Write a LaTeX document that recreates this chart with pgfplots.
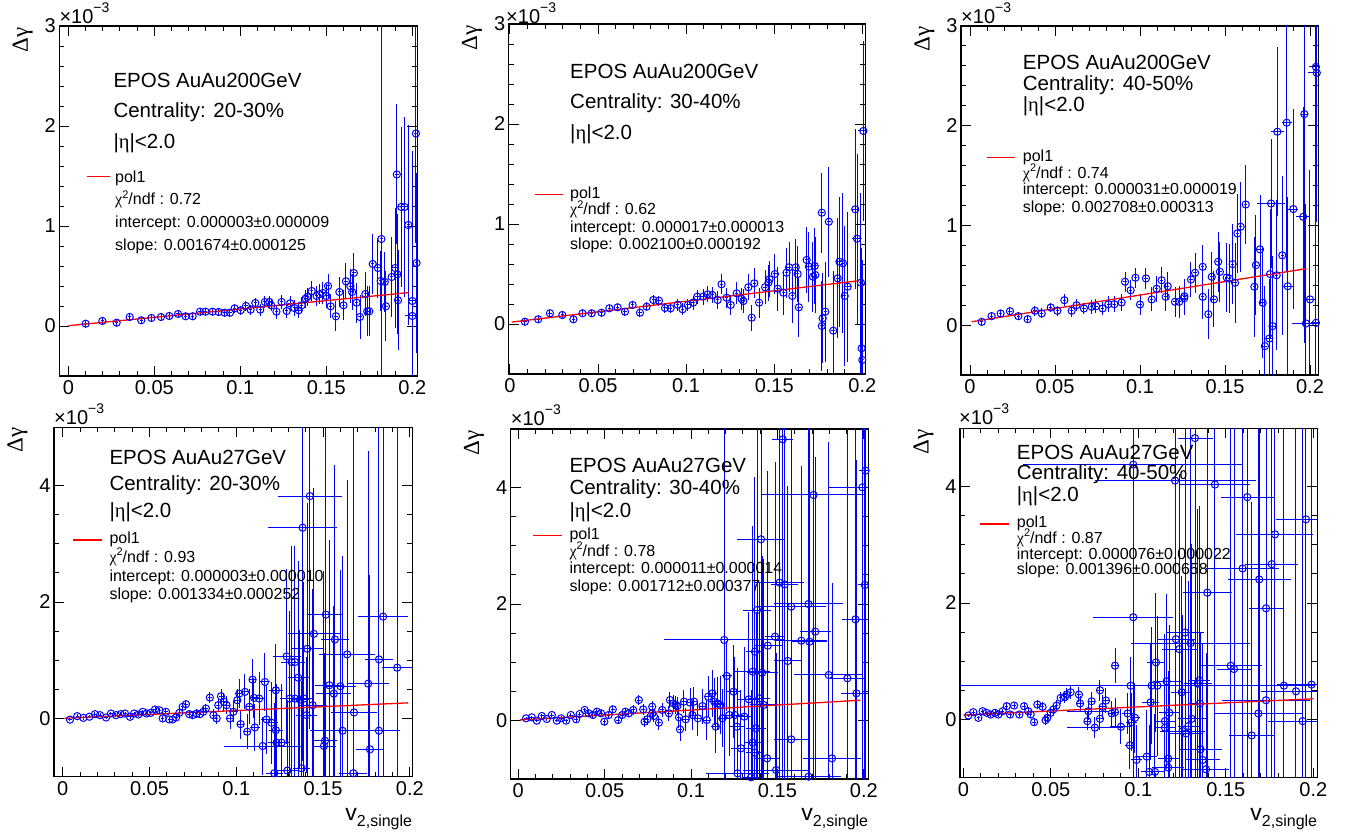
\documentclass[border=0pt]{standalone}
\usepackage{fontspec}
\setmainfont{Liberation Sans}
\newfontfamily\grk{Liberation Serif}
\usepackage{pgfplots}
\usepackage{pgfplotstable}
\pgfplotsset{compat=1.18}

\newcommand{\fA}{\fontsize{20.5}{24}\selectfont}
\newcommand{\fB}{\fontsize{16}{19}\selectfont}
\newcommand{\fT}{\fontsize{20}{22}\selectfont}
\newcommand{\chisq}{{\grk χ}\raisebox{0.42em}{\fontsize{11}{11}\selectfont 2}/ndf}
\newcommand{\tenm}{\fT ×10\raisebox{0.55em}{\fontsize{14}{14}\selectfont −3}}
\newcommand{\dg}{\fontsize{23}{23}\selectfont{\grk Δγ}}
\newcommand{\vlab}{\fontsize{23}{23}\selectfont v\raisebox{-5.5pt}{\fontsize{16}{16}\selectfont 2,single}}

\pgfplotstableread{
x y ex ey
0.0101 0.023 0.001 0.03
0.0198 0.050 0.001 0.03
0.0281 0.033 0.001 0.03
0.0357 0.090 0.001 0.03
0.0424 0.057 0.001 0.03
0.0483 0.080 0.001 0.03
0.0539 0.090 0.001 0.03
0.0587 0.100 0.001 0.03
0.0638 0.120 0.001 0.03
0.0682 0.097 0.001 0.03
0.0723 0.097 0.001 0.035
0.0766 0.143 0.001 0.035
0.0798 0.143 0.001 0.035
0.0839 0.143 0.001 0.035
0.0874 0.140 0.001 0.04
0.0909 0.133 0.001 0.04
0.0940 0.133 0.001 0.04
0.0967 0.177 0.001 0.045
0.1002 0.157 0.001 0.045
0.1033 0.200 0.001 0.05
0.1060 0.163 0.001 0.05
0.1087 0.230 0.001 0.05
0.1116 0.163 0.001 0.06
0.1143 0.240 0.001 0.06
0.1169 0.240 0.001 0.06
0.1180 0.207 0.001 0.06
0.1210 0.143 0.001 0.07
0.1240 0.240 0.001 0.07
0.1270 0.150 0.001 0.07
0.1290 0.227 0.001 0.07
0.1314 0.180 0.001 0.08
0.1340 0.157 0.001 0.08
0.1357 0.207 0.001 0.08
0.1380 0.274 0.001 0.09
0.1390 0.290 0.001 0.09
0.1415 0.350 0.001 0.10
0.1444 0.300 0.001 0.10
0.1460 0.317 0.001 0.10
0.1480 0.330 0.001 0.11
0.1500 0.300 0.001 0.12
0.1510 0.400 0.001 0.12
0.1525 0.197 0.001 0.12
0.1556 0.097 0.001 0.15
0.1576 0.340 0.001 0.15
0.1600 0.207 0.001 0.15
0.1614 0.447 0.001 0.18
0.1640 0.397 0.001 0.17
0.1650 0.340 0.001 0.18
0.1660 0.530 0.001 0.20
0.1676 0.233 0.001 0.20
0.1696 0.090 0.001 0.22
0.1727 0.320 0.001 0.22
0.1738 0.147 0.001 0.25
0.1750 0.147 0.001 0.25
0.1770 0.620 0.001 0.30
0.1800 0.580 0.001 0.30
0.1820 0.870 0.001 4.0
0.1816 0.450 0.001 0.30
0.1840 0.440 0.001 0.30
0.1847 0.197 0.001 0.35
0.1880 0.490 0.001 0.40
0.1900 0.580 0.002 0.60
0.1910 1.515 0.001 0.70
0.1913 0.517 0.002 0.60
0.1917 0.257 0.001 0.50
0.1936 1.190 0.002 0.80
0.1955 1.190 0.002 0.90
0.1977 1.010 0.001 1.00
0.2000 0.250 0.002 1.50
0.2000 0.100 0.004 1.50
0.2021 1.925 0.001 1.10
0.2025 0.630 0.001 0.90
}\tA

\pgfplotstableread{
x y ex ey
0.0085 0.023 0.001 0.03
0.0160 0.047 0.001 0.03
0.0227 0.107 0.001 0.03
0.0297 0.090 0.001 0.03
0.0360 0.047 0.001 0.035
0.0412 0.107 0.001 0.03
0.0464 0.107 0.001 0.03
0.0520 0.113 0.001 0.035
0.0564 0.157 0.001 0.035
0.0611 0.167 0.001 0.035
0.0653 0.123 0.001 0.04
0.0696 0.190 0.001 0.04
0.0738 0.113 0.001 0.045
0.0776 0.173 0.001 0.045
0.0814 0.240 0.001 0.05
0.0846 0.233 0.001 0.05
0.0880 0.160 0.001 0.05
0.0912 0.157 0.001 0.05
0.0952 0.193 0.001 0.06
0.0980 0.147 0.001 0.06
0.1010 0.190 0.001 0.06
0.1040 0.213 0.001 0.07
0.1063 0.273 0.001 0.07
0.1097 0.273 0.001 0.08
0.1122 0.297 0.001 0.08
0.1149 0.290 0.001 0.08
0.1179 0.240 0.001 0.09
0.1201 0.397 0.001 0.10
0.1230 0.263 0.001 0.10
0.1253 0.190 0.001 0.10
0.1287 0.307 0.001 0.11
0.1315 0.250 0.001 0.11
0.1325 0.230 0.001 0.12
0.1353 0.367 0.001 0.13
0.1372 0.063 0.001 0.13
0.1387 0.407 0.001 0.15
0.1414 0.213 0.001 0.15
0.1448 0.367 0.001 0.17
0.1467 0.413 0.001 0.18
0.1473 0.447 0.001 0.18
0.1504 0.500 0.001 0.20
0.1520 0.353 0.001 0.22
0.1552 0.313 0.001 0.22
0.1570 0.513 0.001 0.25
0.1584 0.567 0.001 0.25
0.1603 0.280 0.001 0.27
0.1622 0.567 0.001 0.28
0.1633 0.500 0.001 0.28
0.1640 0.167 0.001 0.30
0.1684 0.640 0.001 0.33
0.1697 0.573 0.001 0.35
0.1720 0.473 0.001 0.35
0.1730 0.580 0.001 0.38
0.1733 0.490 0.001 0.38
0.1770 1.113 0.001 0.40
0.1770 -0.020 0.001 0.45
0.1775 0.057 0.001 0.45
0.1790 0.123 0.001 0.50
0.1810 1.023 0.001 0.55
0.1835 -0.067 0.001 0.60
0.1860 0.457 0.001 0.60
0.1870 0.623 0.002 0.65
0.1890 0.607 0.001 0.70
0.1900 0.280 0.001 0.70
0.1917 0.373 0.002 0.75
0.1960 1.147 0.002 0.80
0.1970 0.853 0.003 0.85
0.1992 0.413 0.001 0.90
0.1996 -0.243 0.001 1.00
0.2000 -0.360 0.001 1.00
0.2006 1.930 0.003 0.90
}\tB

\pgfplotstableread{
x y ex ey
0.0069 0.033 0.001 0.03
0.0127 0.090 0.001 0.03
0.0180 0.117 0.001 0.035
0.0235 0.140 0.001 0.04
0.0284 0.090 0.001 0.04
0.0339 0.060 0.001 0.04
0.0382 0.144 0.001 0.05
0.0422 0.117 0.001 0.05
0.0475 0.177 0.001 0.05
0.0514 0.144 0.001 0.05
0.0555 0.250 0.001 0.06
0.0598 0.144 0.001 0.06
0.0627 0.200 0.001 0.06
0.0670 0.167 0.001 0.06
0.0716 0.184 0.001 0.07
0.0741 0.190 0.001 0.07
0.0780 0.167 0.001 0.07
0.0814 0.210 0.001 0.08
0.0849 0.210 0.001 0.08
0.0892 0.227 0.001 0.09
0.0912 0.435 0.001 0.10
0.0945 0.350 0.001 0.10
0.0973 0.475 0.001 0.10
0.1000 0.207 0.001 0.11
0.1035 0.468 0.001 0.11
0.1069 0.258 0.001 0.12
0.1098 0.365 0.001 0.13
0.1127 0.450 0.001 0.13
0.1151 0.284 0.001 0.14
0.1163 0.390 0.001 0.14
0.1206 0.234 0.001 0.15
0.1231 0.234 0.001 0.16
0.1261 0.290 0.001 0.17
0.1260 0.270 0.001 0.17
0.1300 0.458 0.001 0.18
0.1324 0.525 0.001 0.20
0.1369 0.585 0.001 0.22
0.1369 0.284 0.001 0.22
0.1402 0.110 0.001 0.25
0.1422 0.485 0.001 0.25
0.1435 0.258 0.001 0.28
0.1460 0.635 0.001 0.30
0.1470 0.535 0.001 0.30
0.1510 0.478 0.001 0.35
0.1525 0.468 0.001 0.35
0.1545 0.612 0.001 0.40
0.1559 0.425 0.001 0.40
0.1573 0.920 0.001 0.40
0.1592 0.987 0.001 0.45
0.1622 1.210 0.001 0.40
0.1673 0.385 0.001 0.50
0.1682 0.602 0.001 0.50
0.1706 0.760 0.002 0.55
0.1722 0.224 0.001 0.55
0.1735 -0.210 0.001 0.60
0.1761 -0.134 0.002 0.60
0.1765 0.512 0.001 0.65
0.1771 1.220 0.008 0.65
0.1780 -0.010 0.002 0.70
0.1808 1.940 0.004 0.85
0.1804 0.500 0.001 0.75
0.1837 0.700 0.001 0.80
0.1863 2.030 0.003 1.50
0.1869 0.390 0.003 0.90
0.1902 1.164 0.003 1.00
0.1960 1.087 0.004 1.10
0.1967 2.117 0.002 2.30
0.1976 0.017 0.008 1.20
0.2000 0.258 0.003 1.30
0.2035 2.590 0.004 1.50
0.2040 2.530 0.005 1.50
0.2035 0.023 0.003 1.50
}\tC

\pgfplotstableread{
x y ex ey
0.0042 -0.020 0.001 0.03
0.0084 0.040 0.001 0.03
0.0119 0.010 0.001 0.03
0.0154 0.030 0.001 0.03
0.0186 0.074 0.001 0.03
0.0215 0.057 0.001 0.03
0.0250 0.017 0.001 0.03
0.0278 0.085 0.001 0.03
0.0307 0.057 0.001 0.03
0.0334 0.074 0.001 0.03
0.0359 0.085 0.001 0.03
0.0388 0.028 0.001 0.03
0.0411 0.085 0.001 0.03
0.0436 0.068 0.001 0.035
0.0461 0.114 0.001 0.035
0.0484 0.085 0.001 0.035
0.0507 0.097 0.001 0.035
0.0532 0.154 0.001 0.04
0.0557 0.142 0.001 0.04
0.0576 0.000 0.001 0.04
0.0595 0.114 0.001 0.04
0.0614 -0.017 0.001 0.045
0.0633 -0.017 0.001 0.045
0.0653 0.017 0.001 0.05
0.0672 0.097 0.001 0.05
0.0691 0.200 0.001 0.05
0.0710 0.245 0.001 0.06
0.0729 0.074 0.001 0.06
0.0749 0.057 0.001 0.06
0.0772 0.085 0.001 0.07
0.0791 0.074 0.001 0.07
0.0810 0.114 0.001 0.08
0.0825 0.171 0.001 0.08
0.0848 0.359 0.001 0.10
0.0868 0.057 0.001 0.10
0.0887 0.000 0.001 0.10
0.0896 0.228 0.001 0.12
0.0912 0.382 0.001 0.12
0.0929 0.285 0.002 0.15
0.0944 0.228 0.002 0.15
0.0964 0.000 0.002 0.18
0.0983 0.114 0.002 0.18
0.1006 0.313 0.002 0.20
0.1017 0.427 0.002 0.25
0.1025 -0.097 0.002 0.25
0.1050 0.456 0.002 0.30
0.1063 -0.228 0.002 0.30
0.1075 0.200 0.002 0.30
0.1094 0.667 0.002 0.35
0.1102 0.353 0.003 0.35
0.1107 -0.154 0.003 0.40
0.1132 0.342 0.003 0.45
0.1152 -0.473 0.0225 0.50
0.1165 0.627 0.003 0.50
0.1175 -0.017 0.003 0.60
0.1203 -0.074 0.004 0.70
0.1228 0.484 0.004 0.80
0.1228 -0.200 0.004 0.80
0.1232 -0.416 0.005 1.00
0.1219 -0.940 0.005 1.20
0.1261 -0.416 0.005 1.00
0.1290 1.066 0.008 1.50
0.1294 -0.895 0.006 1.20
0.1309 0.342 0.006 1.50
0.1319 0.969 0.006 2.00
0.1338 0.969 0.006 2.00
0.1338 0.342 0.005 1.50
0.1357 0.700 0.006 2.00
0.1367 0.325 0.005 1.20
0.1376 -0.855 0.005 1.50
0.1382 3.276 0.020 4.00
0.1389 0.342 0.006 2.00
0.1405 0.057 0.006 1.00
0.1409 1.197 0.009 2.50
0.1424 3.818 0.0185 4.00
0.1440 0.228 0.008 2.00
0.1447 1.453 0.015 2.50
0.1505 -0.473 0.007 3.00
0.1511 -0.382 0.007 1.50
0.1516 1.783 0.010 4.00
0.1536 0.570 0.008 2.50
0.1562 0.427 0.010 1.50
0.1568 1.356 0.008 3.00
0.1600 0.553 0.009 2.00
0.1612 -0.211 0.019 3.00
0.1639 1.100 0.016 3.00
0.1678 0.103 0.0135 5.00
0.1674 -0.940 0.008 2.00
0.1760 0.598 0.012 4.00
0.1770 -0.530 0.008 3.00
0.1822 1.014 0.008 5.00
0.1822 -0.211 0.012 2.00
0.1846 1.749 0.0145 6.00
0.1927 0.872 0.009 6.00
}\tD

\pgfplotstableread{
x y ex ey
0.0045 0.040 0.001 0.03
0.0078 0.057 0.001 0.03
0.0107 0.000 0.001 0.03
0.0136 0.080 0.001 0.03
0.0165 0.029 0.001 0.03
0.0194 0.097 0.001 0.03
0.0223 0.000 0.001 0.03
0.0248 0.040 0.001 0.035
0.0277 0.000 0.001 0.035
0.0304 0.097 0.001 0.035
0.0335 0.023 0.001 0.04
0.0355 0.114 0.001 0.04
0.0384 0.183 0.001 0.04
0.0407 0.126 0.001 0.045
0.0432 0.097 0.001 0.045
0.0455 0.154 0.001 0.05
0.0479 0.126 0.001 0.05
0.0498 -0.017 0.001 0.05
0.0523 0.097 0.001 0.05
0.0547 0.194 0.001 0.06
0.0578 0.011 0.001 0.06
0.0601 0.097 0.001 0.06
0.0620 0.154 0.001 0.07
0.0640 0.126 0.001 0.07
0.0665 0.183 0.001 0.08
0.0698 0.354 0.001 0.08
0.0723 0.194 0.001 0.09
0.0731 -0.017 0.001 0.09
0.0746 0.023 0.001 0.09
0.0775 0.126 0.001 0.10
0.0775 0.240 0.001 0.10
0.0785 0.080 0.001 0.10
0.0814 -0.034 0.001 0.12
0.0833 0.183 0.001 0.12
0.0872 0.126 0.001 0.13
0.0878 0.354 0.001 0.14
0.0897 0.297 0.001 0.15
0.0911 0.269 0.001 0.15
0.0921 0.251 0.001 0.16
0.0930 0.057 0.001 0.18
0.0936 -0.149 0.001 0.20
0.0959 0.326 0.002 0.20
0.0969 0.023 0.002 0.20
0.0994 0.309 0.002 0.25
0.1008 0.097 0.002 0.25
0.1017 0.326 0.002 0.25
0.1040 0.040 0.002 0.30
0.1066 0.251 0.002 0.30
0.1091 0.011 0.002 0.35
0.1099 0.411 0.002 0.35
0.1124 0.469 0.003 0.40
0.1134 0.326 0.003 0.40
0.1143 -0.103 0.003 0.45
0.1153 0.297 0.003 0.45
0.1169 0.269 0.003 0.50
0.1182 0.040 0.003 0.50
0.1192 1.383 0.035 6.00
0.1207 0.766 0.003 0.60
0.1221 0.097 0.004 0.70
0.1246 0.497 0.004 0.80
0.1254 0.097 0.005 1.00
0.1266 -0.103 0.004 1.00
0.1269 -0.903 0.018 1.20
0.1289 -0.474 0.006 1.00
0.1308 0.069 0.005 1.20
0.1334 0.366 0.006 1.50
0.1347 -0.971 0.005 1.50
0.1357 0.840 0.010 2.50
0.1357 -0.377 0.005 1.50
0.1370 1.183 0.005 3.00
0.1370 -0.549 0.005 1.50
0.1376 -0.131 0.006 2.00
0.1382 1.897 0.008 4.00
0.1395 0.383 0.006 2.00
0.1405 3.109 0.014 6.00
0.1411 0.823 0.009 2.00
0.1421 0.269 0.008 2.50
0.1440 -0.646 0.007 2.00
0.1444 1.286 0.008 3.00
0.1486 1.440 0.006 3.00
0.1492 -0.846 0.019 2.00
0.1512 2.366 0.014 4.00
0.1531 4.823 0.006 6.00
0.1541 2.337 0.008 4.00
0.1560 1.023 0.008 3.00
0.1580 1.954 0.020 4.00
0.1580 -0.320 0.010 2.00
0.1638 1.371 0.015 3.00
0.1680 2.000 0.020 5.00
0.1686 1.354 0.010 6.00
0.1680 -0.960 0.019 3.00
0.1709 3.869 0.030 6.00
0.1719 1.526 0.009 3.00
0.1797 0.783 0.020 4.00
0.1816 -0.646 0.017 3.00
0.1905 0.726 0.010 6.00
0.1952 1.737 0.008 6.00
0.1957 0.469 0.009 4.00
0.1992 4.000 0.020 6.00
0.2006 2.326 0.004 6.00
0.2010 4.286 0.004 6.00
}\tE

\pgfplotstableread{
x y ex ey
0.0029 0.068 0.001 0.03
0.0057 0.125 0.001 0.03
0.0086 0.028 0.001 0.04
0.0110 0.142 0.001 0.03
0.0133 0.114 0.001 0.03
0.0156 0.085 0.001 0.04
0.0181 0.114 0.001 0.04
0.0200 0.085 0.001 0.04
0.0225 0.142 0.001 0.04
0.0248 0.228 0.001 0.05
0.0267 0.085 0.001 0.05
0.0290 0.239 0.001 0.05
0.0320 0.085 0.001 0.05
0.0347 0.228 0.001 0.06
0.0371 0.142 0.001 0.06
0.0385 0.085 0.001 0.06
0.0404 -0.046 0.001 0.07
0.0423 0.256 0.001 0.07
0.0453 0.217 0.001 0.08
0.0470 -0.011 0.001 0.08
0.0480 0.028 0.001 0.08
0.0499 0.114 0.001 0.09
0.0514 0.171 0.001 0.09
0.0533 0.239 0.001 0.10
0.0556 0.370 0.001 0.10
0.0581 0.387 0.001 0.11
0.0590 0.427 0.001 0.11
0.0613 0.467 0.001 0.12
0.0661 0.427 0.001 0.13
0.0667 0.274 0.002 0.13
0.0709 -0.028 0.002 0.15
0.0714 0.142 0.012 0.15
0.0733 0.313 0.002 0.16
0.0752 -0.142 0.016 0.18
0.0781 0.501 0.002 0.18
0.0781 0.011 0.002 0.20
0.0796 0.217 0.002 0.20
0.0815 0.325 0.002 0.22
0.0848 0.103 0.002 0.22
0.0867 0.923 0.002 0.30
0.0867 0.125 0.002 0.25
0.0901 -0.125 0.006 0.30
0.0939 0.103 0.003 0.35
0.0952 -0.444 0.003 0.40
0.0956 0.580 0.100 0.50
0.0962 -0.046 0.003 0.50
0.0971 1.755 0.023 6.00
0.0971 4.376 0.063 6.00
0.0981 0.028 0.003 0.60
0.0990 -0.695 0.003 0.60
0.1048 -0.638 0.006 0.80
0.1063 -0.900 0.005 0.80
0.1070 0.296 0.005 1.00
0.1076 0.581 0.005 1.00
0.1095 -0.900 0.005 1.00
0.1101 0.980 0.005 1.20
0.1109 0.581 0.005 1.20
0.1152 -0.028 0.006 1.50
0.1152 -0.142 0.006 1.50
0.1162 0.655 0.008 1.50
0.1171 -0.672 0.006 1.50
0.1171 -0.826 0.009 1.50
0.1177 0.114 0.006 1.50
0.1210 4.103 0.046 6.00
0.1215 1.379 0.011 3.00
0.1234 1.208 0.010 3.00
0.1248 0.467 0.006 2.00
0.1253 -0.199 0.013 2.00
0.1267 1.493 0.011 4.00
0.1272 -0.239 0.010 2.00
0.1286 -0.114 0.006 2.50
0.1299 1.311 0.034 4.00
0.1305 0.011 0.008 3.00
0.1324 4.832 0.010 6.00
0.1339 0.615 0.008 3.00
0.1349 0.672 0.006 3.00
0.1352 0.274 0.006 3.00
0.1356 -0.513 0.012 2.00
0.1368 -0.695 0.010 2.00
0.1387 -0.855 0.013 2.00
0.1394 2.177 0.014 5.00
0.1438 4.034 0.020 6.00
0.1528 0.923 0.018 5.00
0.1547 0.866 0.010 5.00
0.1596 2.593 0.021 6.00
0.1623 3.818 0.015 6.00
0.1648 -0.274 0.013 4.00
0.1686 0.103 0.025 6.00
0.1691 2.405 0.018 6.00
0.1730 1.909 0.010 6.00
0.1730 0.330 0.025 6.00
0.1762 2.667 0.015 6.00
0.1781 3.179 0.022 6.00
0.1832 0.581 0.017 6.00
0.1901 0.484 0.020 6.00
0.1939 -0.028 0.020 6.00
0.1958 3.436 0.017 6.00
0.1990 0.598 0.020 6.00
}\tF

\pgfplotsset{
  rootpanel/.style={
    scale only axis, anchor=south west,
    axis line style={line width=1.2pt, draw=black},
    every tick/.style={draw=black, line width=0.9pt},
    major tick length=10pt, minor tick length=5pt,
    xtick={0,0.05,0.1,0.15,0.2}, xticklabels={0,0.05,0.1,0.15,0.2},
    minor x tick num=4,
    scaled x ticks=false, scaled y ticks=false,
    tick label style={font=\fT},
    xticklabel style={yshift=-1pt},
    clip=true,
  },
  row1/.style={ymin=-0.5, ymax=3, ytick={0,1,2,3}, yticklabels={0,1,2,3}, minor y tick num=4},
  row2/.style={ymin=-1, ymax=5, ytick={0,2,4}, yticklabels={0,2,4}, minor y tick num=3},
  datapts/.style={only marks, mark=o, mark size=3.6pt, draw=blue,
    mark options={line width=1pt, draw=blue, fill=none},
    error bars/.cd, x dir=both, x explicit, y dir=both, y explicit,
    draw error bar/.code 2 args={\path[draw=blue, line width=1pt] ##1 -- ##2;}},
  fitline/.style={draw=red, line width=1.3pt, no marks},
}

\begin{document}
\begin{tikzpicture}
\useasboundingbox (0pt,0pt) rectangle (1352pt,838pt);

% ---------- row 1 ----------
\begin{axis}[rootpanel,row1, at={(59.3pt,462pt)}, width=358pt, height=350pt, xmin=-0.00524, xmax=0.20291]
\addplot[datapts] table[x=x,y=y,x error=ex,y error=ey]{\tA};
\addplot[fitline] coordinates {(0,0.003) (0.198,0.334)};
\end{axis}

\begin{axis}[rootpanel,row1, at={(508.7pt,464pt)}, width=356.6pt, height=350pt, xmin=-0.0007, xmax=0.2017]
\addplot[datapts] table[x=x,y=y,x error=ex,y error=ey]{\tB};
\addplot[fitline] coordinates {(0.001,0.019) (0.198,0.433)};
\end{axis}

\begin{axis}[rootpanel,row1, at={(961pt,463pt)}, width=357.3pt, height=349pt, xmin=-0.0053, xmax=0.2049]
\addplot[datapts] table[x=x,y=y,x error=ex,y error=ey]{\tC};
\addplot[fitline] coordinates {(0.001,0.034) (0.198,0.567)};
\end{axis}

% ---------- row 2 ----------
\begin{axis}[rootpanel,row2, at={(54pt,61.3pt)}, width=358.3pt, height=349.4pt, xmin=-0.005, xmax=0.2014]
\addplot[datapts] table[x=x,y=y,x error=ex,y error=ey]{\tD};
\addplot[fitline] coordinates {(0.001,0.004) (0.199,0.268)};
\end{axis}

\begin{axis}[rootpanel,row2, at={(510.7pt,59pt)}, width=357.6pt, height=350pt, xmin=-0.0044, xmax=0.2026]
\addplot[datapts] table[x=x,y=y,x error=ex,y error=ey]{\tE};
\addplot[fitline] coordinates {(0.001,0.0127) (0.198,0.350)};
\end{axis}

\begin{axis}[rootpanel,row2, at={(960pt,60.3pt)}, width=357.3pt, height=349.4pt, xmin=-0.0019, xmax=0.2023]
\addplot[datapts] table[x=x,y=y,x error=ex,y error=ey]{\tF};
\addplot[fitline] coordinates {(0.0,0.076) (0.2,0.355)};
\end{axis}

% ---------- legend samples ----------
\path[draw=red,line width=1.4pt] (86.7pt,661.3pt) -- (110pt,661.3pt);
\path[draw=red,line width=1.4pt] (535pt,643.7pt) -- (563.3pt,643.7pt);
\path[draw=red,line width=1.4pt] (986.7pt,680.7pt) -- (1015pt,680.7pt);
\path[draw=red,line width=1.4pt] (73.3pt,298pt) -- (101.7pt,298pt);
\path[draw=red,line width=1.4pt] (533.3pt,302.3pt) -- (561.7pt,302.3pt);
\path[draw=red,line width=1.4pt] (980pt,314pt) -- (1009.3pt,314pt);

% ---------- axis titles ----------
\begin{scope}[every node/.style={inner sep=0pt}]
\node[rotate=90,anchor=base east] at (27.8pt,811pt) {\dg};
\node[rotate=90,anchor=base east] at (477.2pt,813pt) {\dg};
\node[rotate=90,anchor=base east] at (929.5pt,812pt) {\dg};
\node[rotate=90,anchor=base east] at (22.5pt,411pt) {\dg};
\node[rotate=90,anchor=base east] at (479.2pt,408pt) {\dg};
\node[rotate=90,anchor=base east] at (928.5pt,409pt) {\dg};

\node[anchor=base west] at (59.3pt,814pt) {\tenm};
\node[anchor=base west] at (506pt,814pt) {\tenm};
\node[anchor=base west] at (961pt,814pt) {\tenm};
\node[anchor=base west] at (54pt,413pt) {\tenm};
\node[anchor=base west] at (510.7pt,412pt) {\tenm};
\node[anchor=base west] at (959pt,413pt) {\tenm};

\node[anchor=base east] at (412.3pt,17.3pt) {\vlab};
\node[anchor=base east] at (868.3pt,17.3pt) {\vlab};
\node[anchor=base east] at (1317.3pt,17.3pt) {\vlab};

% ---------- panel texts ----------
% P1
\node[anchor=base west] at (113.3pt,750.7pt) {\fA EPOS AuAu200GeV};
\node[anchor=base west] at (113.3pt,720.7pt) {\fA Centrality: 20-30\%};
\node[anchor=base west] at (113.3pt,689.7pt) {\fA |{\grk η}|<2.0};
\node[anchor=base west] at (115pt,655.3pt) {\fB pol1};
\node[anchor=base west] at (115pt,633pt) {\fB \chisq\ : 0.72};
\node[anchor=base west] at (115pt,610.3pt) {\fB intercept: 0.000003±0.000009};
\node[anchor=base west] at (115pt,587.3pt) {\fB slope: 0.001674±0.000125};
% P2
\node[anchor=base west] at (570pt,759.7pt) {\fA EPOS AuAu200GeV};
\node[anchor=base west] at (570pt,729.7pt) {\fA Centrality: 30-40\%};
\node[anchor=base west] at (570pt,698pt) {\fA |{\grk η}|<2.0};
\node[anchor=base west] at (570pt,639.7pt) {\fB pol1};
\node[anchor=base west] at (570pt,623pt) {\fB \chisq\ : 0.62};
\node[anchor=base west] at (570pt,605.7pt) {\fB intercept: 0.000017±0.000013};
\node[anchor=base west] at (570pt,588.7pt) {\fB slope: 0.002100±0.000192};
% P3
\node[anchor=base west] at (1022.7pt,768.7pt) {\fA EPOS AuAu200GeV};
\node[anchor=base west] at (1022.7pt,747.3pt) {\fA Centrality: 40-50\%};
\node[anchor=base west] at (1022.7pt,726.3pt) {\fA |{\grk η}|<2.0};
\node[anchor=base west] at (1022.7pt,676.3pt) {\fB pol1};
\node[anchor=base west] at (1022.7pt,659.7pt) {\fB \chisq\ : 0.74};
\node[anchor=base west] at (1022.7pt,643pt) {\fB intercept: 0.000031±0.000019};
\node[anchor=base west] at (1022.7pt,625.7pt) {\fB slope: 0.002708±0.000313};
% P4
\node[anchor=base west] at (109.3pt,373pt) {\fA EPOS AuAu27GeV};
\node[anchor=base west] at (109.3pt,347.3pt) {\fA Centrality: 20-30\%};
\node[anchor=base west] at (109.3pt,320.7pt) {\fA |{\grk η}|<2.0};
\node[anchor=base west] at (109.3pt,294pt) {\fB pol1};
\node[anchor=base west] at (109.3pt,275.3pt) {\fB \chisq\ : 0.93};
\node[anchor=base west] at (109.3pt,256.3pt) {\fB intercept: 0.000003±0.000010};
\node[anchor=base west] at (109.3pt,238pt) {\fB slope: 0.001334±0.000252};
% P5
\node[anchor=base west] at (569.3pt,365.3pt) {\fA EPOS AuAu27GeV};
\node[anchor=base west] at (569.3pt,343pt) {\fA Centrality: 30-40\%};
\node[anchor=base west] at (569.3pt,320.7pt) {\fA |{\grk η}|<2.0};
\node[anchor=base west] at (569.3pt,298.7pt) {\fB pol1};
\node[anchor=base west] at (569.3pt,281.3pt) {\fB \chisq\ : 0.78};
\node[anchor=base west] at (569.3pt,264pt) {\fB intercept: 0.000011±0.000014};
\node[anchor=base west] at (569.3pt,246.3pt) {\fB slope: 0.001712±0.000377};
% P6
\node[anchor=base west] at (1016.7pt,378pt) {\fA EPOS AuAu27GeV};
\node[anchor=base west] at (1016.7pt,358pt) {\fA Centrality: 40-50\%};
\node[anchor=base west] at (1016.7pt,336.3pt) {\fA |{\grk η}|<2.0};
\node[anchor=base west] at (1016.7pt,310.3pt) {\fB pol1};
\node[anchor=base west] at (1016.7pt,294.7pt) {\fB \chisq\ : 0.87};
\node[anchor=base west] at (1016.7pt,278.7pt) {\fB intercept: 0.000076±0.000022};
\node[anchor=base west] at (1016.7pt,263pt) {\fB slope: 0.001396±0.000658};
\end{scope}
\end{tikzpicture}
\end{document}
